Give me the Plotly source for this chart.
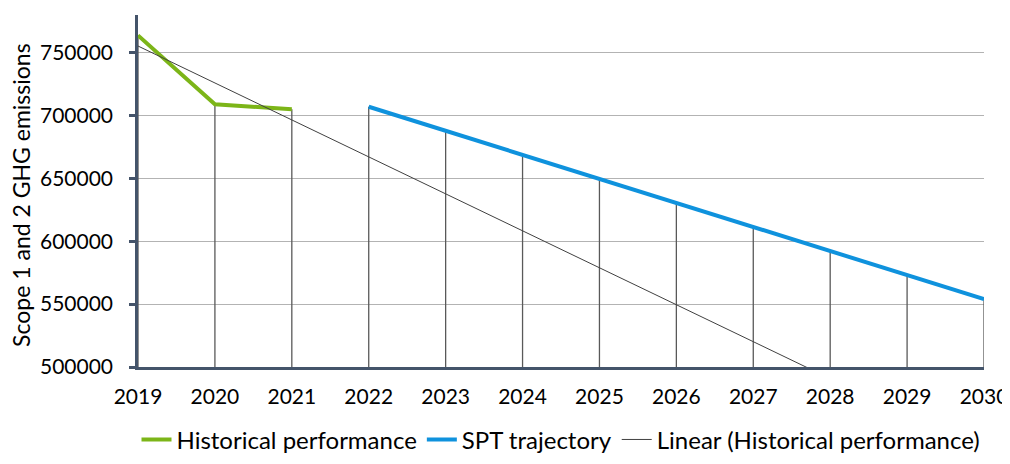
import numpy as np
import plotly.graph_objects as go

hist_years = [2019, 2020, 2021]
hist_values = [763800, 709000, 705000]

spt_years = [2022, 2023, 2024, 2025, 2026, 2027, 2028, 2029, 2030]
spt_values = [707000, 687900, 668800, 649600, 630500, 611400, 592200, 573100, 554000]

tick_years = list(range(2019, 2031))
y_ticks = [500000, 550000, 600000, 650000, 700000, 750000]
y_min, y_max = 500000, 780000

# Linear trend of historical performance (Excel-style trendline)
slope, intercept = np.polyfit(hist_years, hist_values, 1)
trend_x = tick_years
trend_y = [slope * x + intercept for x in trend_x]

FONT = "Lato"
AXIS_COL = "#44546a"

fig = go.Figure()

# Drop lines from every point down to the axis
all_x = hist_years + spt_years
all_y = hist_values + spt_values
fig.add_trace(go.Scatter(
    x=all_x, y=all_y, mode="markers",
    marker=dict(size=1, color="rgba(0,0,0,0)"),
    error_y=dict(type="data", symmetric=False,
                 array=[0] * len(all_y),
                 arrayminus=[v - y_min for v in all_y],
                 color="#595959", thickness=1.3, width=0),
    showlegend=False, hoverinfo="skip",
))

fig.add_trace(go.Scatter(
    x=hist_years, y=hist_values, mode="lines", name="Historical performance",
    line=dict(color="#7cb518", width=4),
))
fig.add_trace(go.Scatter(
    x=spt_years, y=spt_values, mode="lines", name="SPT trajectory",
    line=dict(color="#0f92dd", width=4),
))
fig.add_trace(go.Scatter(
    x=trend_x, y=trend_y, mode="lines", name="Linear (Historical performance)",
    line=dict(color="#404040", width=1),
))

fig.add_annotation(
    text="Scope 1 and 2 GHG emissions", textangle=-90,
    xref="paper", yref="paper", x=-0.139, y=0.49,
    xanchor="center", yanchor="middle", showarrow=False,
    font=dict(family=FONT, size=23, color="#000000"),
)

fig.update_layout(
    width=1002, height=448,
    margin=dict(l=130, r=26, t=7, b=89, autoexpand=False),
    paper_bgcolor="white", plot_bgcolor="white",
    font=dict(family=FONT, size=21, color="#000000"),
    showlegend=True,
    legend=dict(orientation="h", x=0.5, xanchor="center", y=-0.207, yanchor="middle",
                font=dict(size=24), itemwidth=30, traceorder="normal"),
    xaxis=dict(
        range=[2019, 2030], tickvals=tick_years, ticktext=[str(y) for y in tick_years],
        showgrid=False, zeroline=False, automargin=False,
        showline=True, linecolor=AXIS_COL, linewidth=2.5,
        ticks="", tickfont=dict(size=21), ticklabelstandoff=9,
        ticklabeloverflow="allow",
    ),
    yaxis=dict(
        range=[y_min, y_max], tickvals=y_ticks, ticktext=[str(v) for v in y_ticks],
        showgrid=True, gridcolor="#b3b3b3", gridwidth=1.3, zeroline=False, automargin=False,
        showline=True, linecolor=AXIS_COL, linewidth=2.5,
        ticks="outside", ticklen=6, tickcolor=AXIS_COL, tickwidth=2.5,
        tickfont=dict(size=21), ticklabelstandoff=12,
    ),
)

fig.write_html("out.html")
